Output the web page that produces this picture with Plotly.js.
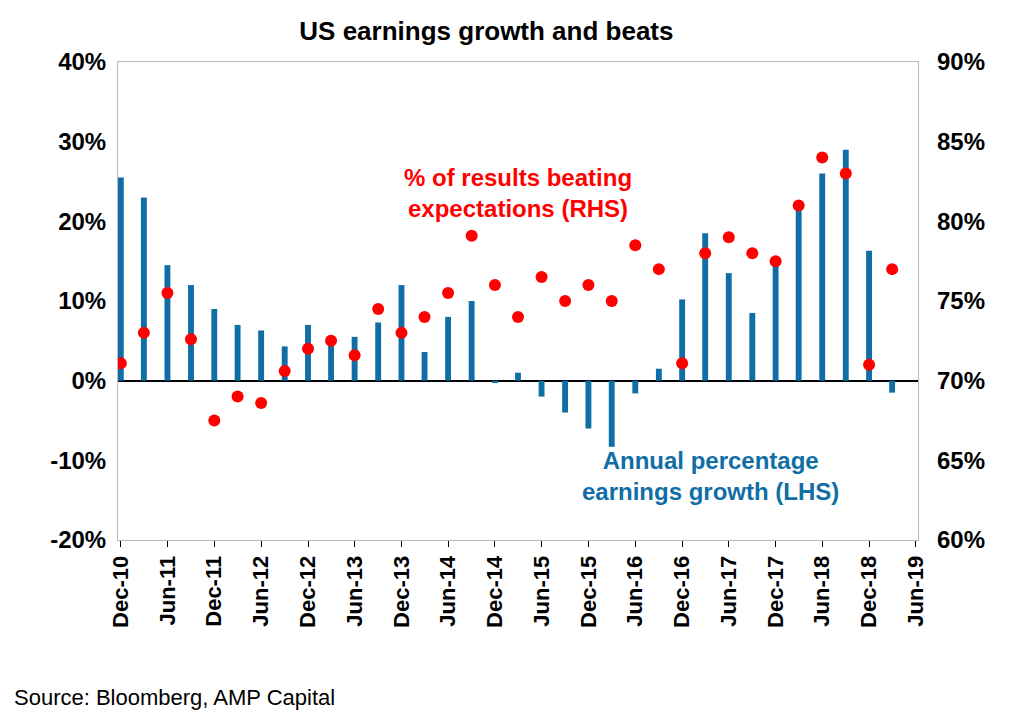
<!DOCTYPE html>
<html>
<head>
<meta charset="utf-8">
<script src="https://cdn.plot.ly/plotly-3.0.1.min.js"></script>
<style>body{margin:0;background:#fff;}#chart{width:1024px;height:721px;}</style>
</head>
<body>
<div id="chart"></div>
<script>
// quarterly dates, Dec-10 .. Mar-19
const quarters = [];
for (let y = 2010, m = 12; quarters.length < 34; ) {
    quarters.push(`${y}-${String(m).padStart(2, "0")}-01`);
    m += 3;
    if (m > 12) { m -= 12; y += 1; }
}

// Annual percentage earnings growth (LHS)
const earningsGrowth = [25.5, 23, 14.5, 12, 9, 7, 6.3, 4.3, 7, 5, 5.5, 7.3, 12, 3.6, 8, 10,
    -0.3, 1, -2, -4, -6, -8.3, -1.6, 1.5, 10.2, 18.5, 13.5, 8.5, 15, 22, 26, 29, 16.3, -1.5];

// % of results beating expectations (RHS)
const beats = [71.1, 73.0, 75.5, 72.6, 67.5, 69.0, 68.6, 70.6, 72.0, 72.5, 71.6, 74.5, 73.0, 74.0, 75.5, 79.1,
    76.0, 74.0, 76.5, 75.0, 76.0, 75.0, 78.5, 77.0, 71.1, 78.0, 79.0, 78.0, 77.5, 81.0, 84.0, 83.0, 71.0, 77.0];

const leftTicks = [-20, -10, 0, 10, 20, 30, 40];
const leftLabels = ["-20%", "-10%", "0%", "10%", "20%", "30%", "40%"];

const FONT = "Liberation Sans, Arial, sans-serif";
const BLUE = "#106ea6";

const data = [
    {
        x: quarters, y: earningsGrowth, type: "bar",
        width: 23 * 86400000,
        marker: { color: BLUE }
    },
    {
        x: quarters, y: beats, yaxis: "y2", type: "scatter", mode: "markers",
        marker: { color: "#ff0000", size: 12 }
    }
];

const tickFont = { family: FONT, size: 24, color: "#000", weight: "bold" };

const layout = {
    width: 1024, height: 721,
    margin: { l: 118, r: 106, t: 62, b: 181 },
    paper_bgcolor: "#fff", plot_bgcolor: "#fff",
    showlegend: false,
    title: { text: "US earnings growth and beats", x: 0.475, y: 0.97,
        font: { family: FONT, size: 26, color: "#000", weight: "bold" } },
    xaxis: {
        type: "date",
        range: ["2010-11-20", "2019-06-10"],
        tick0: "2010-12-01", dtick: "M6", tickformat: "%b-%y",
        tickangle: -90, tickfont: { ...tickFont, size: 22 },
        ticks: "outside", ticklen: 6, tickcolor: "#000",
        showgrid: false, showline: true, linecolor: "#bbb", mirror: true
    },
    yaxis: {
        range: [-20, 40], tickvals: leftTicks, ticktext: leftLabels,
        tickfont: tickFont, showgrid: false, ticklabelstandoff: 6,
        zeroline: true, zerolinecolor: "#000", zerolinewidth: 1.5,
        showline: true, linecolor: "#bbb", mirror: true
    },
    yaxis2: {
        overlaying: "y", side: "right",
        range: [60, 90], dtick: 5, ticksuffix: "%",
        tickfont: tickFont, showgrid: false, zeroline: false, ticklabelstandoff: 18
    },
    annotations: [
        { xref: "paper", yref: "paper", x: 0.5, y: 0.79, xanchor: "center", showarrow: false,
          text: "% of results beating<br>expectations (RHS)", align: "center",
          font: { family: FONT, size: 24, color: "#ff0000", weight: "bold" } },
        { xref: "paper", yref: "paper", x: 0.74, y: 0.07, xanchor: "center", showarrow: false,
          text: "Annual percentage<br>earnings growth (LHS)", align: "center",
          font: { family: FONT, size: 24, color: BLUE, weight: "bold" } },
        { xref: "paper", yref: "paper", x: -0.132, y: -0.33, xanchor: "left", yanchor: "middle", showarrow: false,
          text: "Source: Bloomberg, AMP Capital",
          font: { family: FONT, size: 22, color: "#000" } }
    ]
};

Plotly.newPlot("chart", data, layout, { displayModeBar: false });
</script>
</body>
</html>
